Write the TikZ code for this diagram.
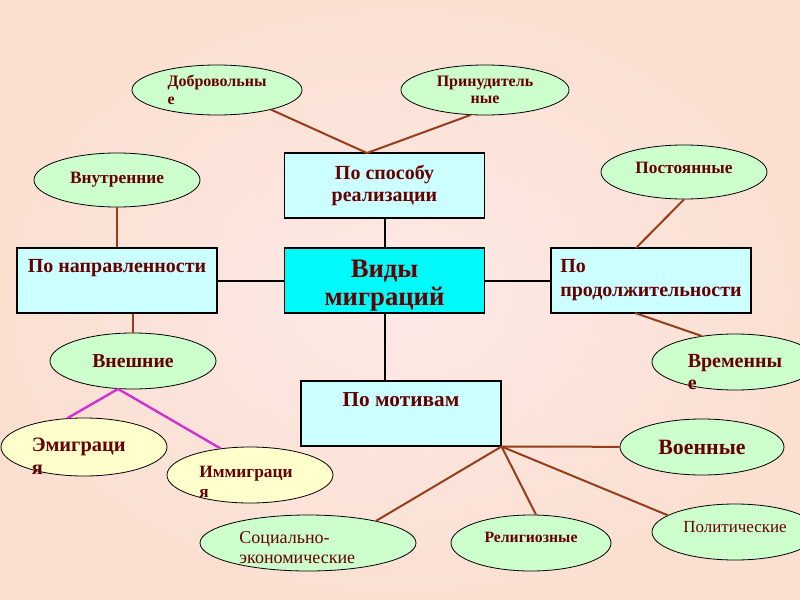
\documentclass[tikz,border=0pt]{standalone}
\usepackage{fontspec}
\setmainfont{Liberation Serif}
\usetikzlibrary{shapes.geometric}
\definecolor{bgpink}{RGB}{253,233,231}
\definecolor{bgpeach}{RGB}{251,224,210}
\definecolor{boxcyan}{RGB}{204,255,255}
\definecolor{maincyan}{RGB}{0,250,250}
\definecolor{ovgreen}{RGB}{204,255,204}
\definecolor{ovyellow}{RGB}{255,255,204}
\definecolor{txtred}{RGB}{102,0,0}
\definecolor{linebrown}{RGB}{150,62,25}
\definecolor{linemag}{RGB}{210,50,210}
\newcommand{\fsz}[2]{\fontsize{#1}{#2}\selectfont}
\begin{document}
\begin{tikzpicture}[x=0.75pt,y=-0.75pt,
    box/.style={draw=black, line width=0.8pt, fill=boxcyan, minimum width=150pt,
      minimum height=48.75pt, inner sep=2pt, text=txtred},
    oval/.style={ellipse, draw=black, line width=0.6pt, fill=ovgreen, inner sep=0pt,
      minimum width=124.5pt, minimum height=42pt, text=txtred},
    pale/.style={oval, fill=ovyellow},
    lbl/.style={text=txtred, inner sep=0pt},
    trunk/.style={draw=black, line width=1.5pt},
    twig/.style={draw=linebrown, line width=1.5pt},
    fork/.style={draw=linemag, line width=1.8pt}]
  \useasboundingbox (0,0) rectangle (800,600);
  \shade[inner color=bgpink, outer color=bgpeach] (0,0) rectangle (800,600);

  % boxes
  \node[box, fill=maincyan, label={[lbl, align=center, yshift=-3.5pt, font=\bfseries\fsz{20}{21}]center:{Виды\\миграций}}] (main) at (384.5,280.5) {};
  \node[box, align=center, font=\bfseries\fsz{15}{17}] (spos) at (384.5,185.5) {По способу\\реализации};
  \node[box, text height=10.5pt, text depth=22pt, font=\bfseries\fsz{15}{17}] (napr) at (117,280.5) {По направленности};
  \node[box, align=left, font=\bfseries\fsz{15}{18}] (prod) at (651,280.5) {По\\продолжительности};
  \node[box, text height=10.5pt, text depth=21pt, font=\bfseries\fsz{16}{18}] (motiv) at (401,413.5) {По мотивам};

  % ovals
  \node[oval, minimum width=127.5pt, minimum height=37.5pt, align=left, font=\bfseries\fsz{12}{13}] (dobr) at (217,90) {Добровольны\\е};
  \node[oval, minimum width=126pt, minimum height=37.5pt, align=center, font=\bfseries\fsz{12}{13}] (prin) at (485,90) {Принудитель\\ные};
  \node[oval, minimum height=40.5pt, font=\bfseries\fsz{13}{15}] (vnutr) at (117,180) {Внутренние};
  \node[oval, font=\bfseries\fsz{14.8}{16}] (vnesh) at (133,361) {Внешние};
  \node[pale, minimum height=43.5pt, label={[lbl, align=left, xshift=-4pt, yshift=-6.75pt, font=\bfseries\fsz{15.3}{17}]center:{Эмиграци\\я}}] (emig) at (84,447) {};
  \node[pale, label={[lbl, align=left, xshift=-3pt, yshift=-5.25pt, font=\bfseries\fsz{13}{15}]center:{Иммиграци\\я}}] (imm) at (250,475) {};
  \node[oval, minimum height=40.5pt, text height=9pt, text depth=7.5pt, font=\bfseries\fsz{13}{15}] (post) at (684,172) {Постоянные};
  \node[oval, label={[lbl, align=left, yshift=-7.5pt, font=\bfseries\fsz{15}{16}]center:{Временны\\е}}] (vrem) at (735,362) {};
  \node[oval, minimum width=123pt, font=\bfseries\fsz{16.4}{18}] (voen) at (702,447) {Военные};
  \node[oval, minimum width=162pt, label={[lbl, align=left, xshift=-8pt, yshift=-3.75pt, font=\fsz{13.5}{15}]center:{Социально-\\экономические}}] (soc) at (308,543) {};
  \node[oval, minimum width=120pt, text height=8.3pt, text depth=9pt, font=\bfseries\fsz{11.8}{13}] (rel) at (531,543) {Религиозные};
  \node[oval, text height=8.9pt, text depth=7.5pt, font=\fsz{12.7}{14}] (polit) at (735,532) {Политические};

  % connectors
  \draw[trunk] (spos) -- (main);
  \draw[trunk] (napr) -- (main);
  \draw[trunk] (main) -- (prod);
  \draw[trunk] (main.south) -- (main.south |- motiv.north);
  \coordinate (apex) at (367,153);
  \draw[twig] (dobr.-20) -- (apex) -- (prin.-120);
  \draw[twig] (vnutr) -- (vnutr |- napr.north);
  \draw[twig] (vnesh.north |- napr.south) -- (vnesh);
  \draw[fork] (emig.120) -- (vnesh.-118) -- (imm.138);
  \coordinate (ptop) at (636,248);
  \coordinate (pbot) at (635,313);
  \draw[twig] (post.south) -- (ptop);
  \draw[twig] (pbot) -- (vrem.142);
  \coordinate (hub) at (motiv.south east);
  \draw[twig] (hub) -- (voen);
  \draw[twig] (hub) -- (soc.18);
  \draw[twig] (hub) -- (rel.80);
  \draw[twig] (hub) -- (polit.166);
\end{tikzpicture}
\end{document}
